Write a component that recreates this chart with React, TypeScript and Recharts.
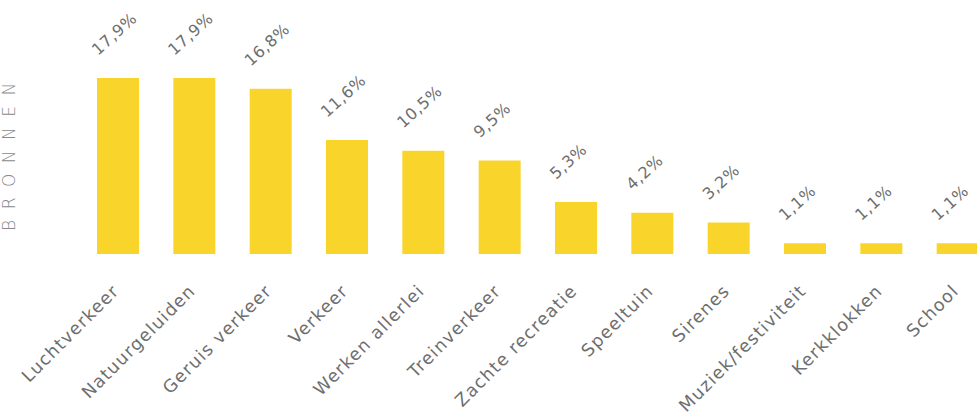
import { Bar, BarChart, LabelList, XAxis, YAxis } from "recharts";

const categories = [
  "Luchtverkeer",
  "Natuurgeluiden",
  "Geruis verkeer",
  "Verkeer",
  "Werken allerlei",
  "Treinverkeer",
  "Zachte recreatie",
  "Speeltuin",
  "Sirenes",
  "Muziek/festiviteit",
  "Kerkklokken",
  "School",
];

const shares = [17.9, 17.9, 16.8, 11.6, 10.5, 9.5, 5.3, 4.2, 3.2, 1.1, 1.1, 1.1];

const sideTitle = "BRONNEN";

const data = categories.map((name, i) => ({ name, value: shares[i] }));

const FONT = "'DejaVu Sans', Verdana, sans-serif";
const TEXT = "#6e6e6e";
const YELLOW = "#F9D52C";

const CategoryTick = (props: any) => {
  const { x, y, payload } = props;
  const tx = x + 2;
  const ty = y + 30;
  return (
    <text
      x={tx}
      y={ty}
      textAnchor="end"
      fill={TEXT}
      fontFamily={FONT}
      fontSize={17.5}
      letterSpacing={1.2}
      transform={`rotate(-45 ${tx} ${ty})`}
    >
      {payload.value}
    </text>
  );
};

const ValueLabel = (props: any) => {
  const { x, y, width, value } = props;
  const lx = x + width / 2 - 20;
  const ly = y - 22;
  return (
    <text
      x={lx}
      y={ly}
      textAnchor="start"
      fill={TEXT}
      fontFamily={FONT}
      fontSize={16}
      letterSpacing={0.6}
      transform={`rotate(-42 ${lx} ${ly})`}
    >
      {String(value).replace(".", ",")}%
    </text>
  );
};

export default function App() {
  return (
    <div
      style={{
        position: "absolute",
        left: 0,
        top: 0,
        width: 977,
        height: 420,
        overflow: "hidden",
        background: "#fff",
      }}
    >
      <svg
        width={30}
        height={420}
        style={{ position: "absolute", left: 0, top: 0 }}
      >
        <text
          x={15}
          y={231}
          fill="#8a8a8a"
          fontFamily={FONT}
          fontSize={17}
          fontWeight={300}
          letterSpacing={10.5}
          transform="rotate(-90 15 231)"
        >
          {sideTitle}
        </text>
      </svg>
      <BarChart
        width={996}
        height={420}
        data={data}
        margin={{ top: 78, right: 0, left: 80, bottom: 0 }}
        barSize={42}
      >
        <XAxis
          dataKey="name"
          axisLine={false}
          tickLine={false}
          interval={0}
          height={166}
          tick={<CategoryTick />}
        />
        <YAxis hide domain={[0, 17.9]} />
        <Bar dataKey="value" fill={YELLOW} isAnimationActive={false}>
          <LabelList dataKey="value" content={<ValueLabel />} />
        </Bar>
      </BarChart>
    </div>
  );
}
